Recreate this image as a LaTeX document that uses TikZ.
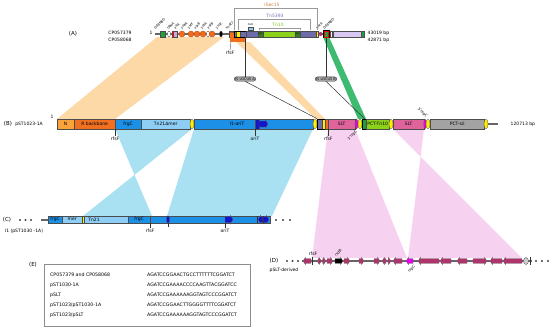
\documentclass[tikz,border=0pt]{standalone}
\usepackage{fontspec}
\setmainfont{DejaVu Sans}
\usetikzlibrary{shapes.geometric}
\definecolor{peach}{HTML}{FDD9A8}
\definecolor{skyw}{HTML}{A9E1F2}
\definecolor{pinkw}{HTML}{F7D2F0}
\definecolor{greenw}{HTML}{3DBB70}
\definecolor{cN}{HTML}{F9A33A}
\definecolor{cR}{HTML}{F07020}
\definecolor{cBlue}{HTML}{1C8FE6}
\definecolor{cLBlue}{HTML}{8ECDF4}
\definecolor{cDBlue}{HTML}{1414C8}
\definecolor{cSLT}{HTML}{E0649C}
\definecolor{cLime}{HTML}{8CD21A}
\definecolor{cGray}{HTML}{A3A3A3}
\definecolor{cYel}{HTML}{FFEE00}
\definecolor{cMag}{HTML}{E800E8}
\definecolor{cPur}{HTML}{6C6CA8}
\definecolor{cLilac}{HTML}{D9C9F2}
\definecolor{cGreen}{HTML}{1E9E3C}
\definecolor{cDGreen}{HTML}{3A7A20}
\definecolor{cOr}{HTML}{F26A1B}
\definecolor{cMaroon}{HTML}{B0346C}
\definecolor{cISec}{HTML}{C8843C}
\definecolor{cTnf}{HTML}{7070B0}
\definecolor{cTnt}{HTML}{80C020}
\newcommand{\gR}[5]{\filldraw[fill=#4,draw=black!60,line width=0.3pt] (#1,#3-#5)--(#2-2.5,#3-#5)--(#2-2.5,#3-#5-1.3)--(#2,#3)--(#2-2.5,#3+#5+1.3)--(#2-2.5,#3+#5)--(#1,#3+#5)--cycle;}
\newcommand{\gL}[5]{\filldraw[fill=#4,draw=black!60,line width=0.3pt] (#2,#3-#5)--(#1+2.5,#3-#5)--(#1+2.5,#3-#5-1.3)--(#1,#3)--(#1+2.5,#3+#5+1.3)--(#1+2.5,#3+#5)--(#2,#3+#5)--cycle;}
\tikzset{
 lab/.style={font=\fontsize{4.5}{5}\selectfont, inner sep=0.5pt},
 big/.style={font=\fontsize{5.5}{6}\selectfont, inner sep=0.5pt},
 seg/.style={draw=black!70, line width=0.35pt, inner sep=0, minimum height=10pt, anchor=west, font=\fontsize{4.5}{5}\selectfont},
 segc/.style={seg, minimum height=7.5pt},
 sega/.style={seg, minimum height=6pt},
 oval/.style={ellipse, draw=black!70, line width=0.3pt, inner sep=0, minimum width=4pt, minimum height=10pt},
 bb/.style={draw=black!60, line width=1.3pt},
 tick/.style={draw=black!80, line width=0.35pt},
 brk/.style={draw=black!40, line width=0.5pt},
 locus/.style={draw=black!80, fill=black!30, rounded corners=2pt, line width=0.4pt, inner sep=0.8pt, font=\fontsize{3.5}{4}\selectfont},
 conn/.style={draw=black!80, line width=0.5pt},
 rot/.style={font=\fontsize{3.3}{3.5}\selectfont, inner sep=0.2pt, rotate=45, anchor=west},
 rotm/.style={font=\fontsize{3.6}{4}\selectfont, inner sep=0.2pt, rotate=-45, anchor=east},
 dotn/.style={circle, fill=black!75, inner sep=0, minimum size=2.3pt},
 orn/.style={circle, fill=cOr, draw=cOr!70!black, line width=0.3pt, inner sep=0, minimum size=6pt},
}
\begin{document}
\begin{tikzpicture}[x=1pt,y=-1pt]
\useasboundingbox (0,0) rectangle (550,330);
% ---------- wedges ----------
\fill[peach] (157,37) -- (224,37) -- (115,119) -- (57,119) -- cycle;
\fill[peach] (236,42) -- (250,42) -- (325,119) -- (316,119) -- cycle;
\fill[greenw] (323,37) -- (329,37) -- (366,119) -- (358,119) -- cycle;
\fill[skyw] (115,129) -- (192,129) -- (83,216) -- (152,216) -- cycle;
\fill[skyw] (194,129) -- (313,129) -- (272,216) -- (167,216) -- cycle;
\fill[pinkw] (328,129) -- (355,129) -- (407,258) -- (312,258) -- cycle;
\fill[pinkw] (393,129) -- (424,129) -- (408,258) -- (522,258) -- cycle;

% ---------- row A ----------
\node[big] (labA) at (73,34) {(A)};
\node[lab] (acc1) at (120,33) {CP057379};
\node[lab] (acc2) at (120,40) {CP058068};
\node[lab] (a1) at (151,33) {1};
\draw[bb] (155,34) -- (364,34);
\node[sega, fill=cGreen, minimum width=5pt] (ag1) at (160,34) {};
\node[oval, fill=white, minimum width=3pt, minimum height=6pt] (aw1) at (169,34) {};
\node[sega, fill=violet!35, minimum width=5pt] (av) at (172,34) {};
\draw[red, line width=0.5pt] (173.3,31) -- (173.3,37);
\node[orn] (ao1) at (182,34) {};
\node[orn] (ao2) at (191,34) {};
\node[orn] (ao3) at (197,34) {};
\node[orn] (ao4) at (203,34) {};
\node[oval, fill=white, minimum width=3pt, minimum height=6pt] (aw2) at (208,34) {};
\node[orn] (ao5) at (212,34) {};
\node[oval, fill=black, minimum width=3pt, minimum height=6pt] (ak) at (221,34) {};
\node[sega, fill=cR!80!black, minimum width=4pt] (abr) at (229,34) {};
\fill[cR] (230,33) rectangle (246,42);
\node[sega, fill=cPur, minimum width=12pt] (aISin) at (234,34) {};
\node[sega, fill=cYel, minimum width=4pt] (ay) at (235.5,34) {};
\node[sega, draw=black, line width=0.8pt, minimum width=12pt] (aIS) at (234,34) {};
\node[sega, fill=cPur, minimum width=12pt] (ap1) at (246,34) {};
\node[sega, fill=cLBlue, minimum width=5pt, minimum height=3.5pt] (ahb) at (248,28.5) {};
\node[font=\fontsize{2.5}{3}\selectfont, inner sep=0] (ahbl) at (250.5,25) {hisR};
\node[sega, fill=cLime, minimum width=42pt] (atn) at (258,34) {};
\node[sega, fill=cDGreen, minimum width=5pt, font=\fontsize{2}{2}\selectfont] (ae1) at (258,34) {IS10};
\node[sega, fill=cDGreen, minimum width=5pt, font=\fontsize{2}{2}\selectfont] (ae2) at (295,34) {IS10};
\node[sega, fill=cPur, minimum width=16pt] (ap2) at (300,34) {};
\node[sega, fill=cYel, minimum width=2pt] (ay2) at (316,34) {};
\node[circle, fill=cMaroon, inner sep=0, minimum size=4pt] (am) at (320.5,34) {};
\node[sega, fill=cGreen, draw=black, line width=0.8pt, minimum width=6pt, minimum height=7pt] (aG) at (323,34) {};
\draw[red, line width=0.4pt] (323.8,31.3) rectangle (328.2,36.7);
\node[sega, fill=white, minimum width=2pt] (aw3) at (330,34) {};
\node[sega, fill=cLilac, minimum width=28pt] (al) at (333,34) {};
\node[sega, fill=cGreen, minimum width=3pt] (ag2) at (361,34) {};
\node[lab, anchor=west] (abp1) at (367,33) {43019 bp};
\node[lab, anchor=west] (abp2) at (367,40) {42871 bp};
% rotated gene labels
\node[rot] (r1) at (154.5,29) {DS9NBD};
\node[rot] (r2) at (167.5,29) {tRNA};
\node[rot] (r3) at (174.5,29) {yfiA};
\node[rot] (r4) at (181,29) {ydeA};
\node[rot] (r5) at (188,29) {ykfF};
\node[rot] (r6) at (194.5,29) {yjaB};
\node[rot] (r7) at (201,29) {ydfA};
\node[rot] (r8) at (207.5,29) {yafB};
\node[rot] (r9) at (216,29) {ysdC};
\node[rot] (r10) at (226,29) {hsdCI};
\node[rot] (r11) at (316.5,29) {parA};
\node[rot] (r12) at (323.5,29) {DS9NBD};
% brackets
\draw[brk] (234,30) -- (234,8.5) -- (317,8.5) -- (317,30);
\node[lab, text=cISec] (tISec) at (272,4.5) {ISec15};
\draw[brk] (238,30) -- (238,19) -- (310,19) -- (310,30);
\node[lab, text=cTnf] (tTnf) at (275,15.5) {Tn5393};
\draw[brk] (259,30) -- (259,28) -- (300,28) -- (300,30);
\node[lab, text=cTnt] (tTnt) at (278,24.5) {Tn10};
% rfsF A
\node[lab] (arf) at (230,52.5) {rfsF};
\draw[tick] (231,42) -- (arf.north);
% IS loci
\node[locus] (locA) at (245,79) {IS LOCUS A};
\node[locus] (locB) at (326,79) {IS LOCUS B};
\draw[conn] (locA.north) -- (locA.north |- aIS.south);
\draw[conn] (locB.north) -- (locB.north |- aG.south);

% ---------- row B ----------
\node[big] (labB) at (8,124) {(B)};
\node[lab] (nB) at (29,124) {pST1023-1A};
\node[lab] (b1) at (52,117) {1};
\node[seg, fill=cN, minimum width=17pt] (bN) at (57,124) {N};
\node[seg, fill=cR, minimum width=41pt] (bR) at (74,124) {R backbone};
\node[seg, fill=cBlue, minimum width=26pt] (bF) at (115,124) {frgC};
\node[seg, fill=cLBlue, minimum width=49pt] (bT) at (141,124) {Tn21Δmer};
\node[seg, fill=cBlue, minimum width=119pt] (bI) at (194,124) {};
\node[lab] (bIl) at (237,124) {I1-oriT};
\node[oval, fill=cYel] (by1) at (192,124) {};
\node[seg, fill=cDBlue, minimum width=4pt] (bd1) at (255,124) {};
\gR{259}{268}{124}{cDBlue}{3}
\node[oval, fill=cYel] (by2) at (315,124) {};
\node[seg, fill=cPur, minimum width=5pt] (bp) at (317,124) {};
\node[seg, fill=cYel, minimum width=3pt] (byy) at (322,124) {};
\node[seg, draw=black, line width=0.8pt, minimum width=8pt] (bIS) at (317,124) {};
\node[seg, fill=cR, minimum width=3pt] (bo) at (325,124) {};
\node[seg, fill=cSLT, minimum width=27pt] (bS1) at (328,124) {SLT};
\node[oval, fill=cMag, minimum width=3pt] (bm1) at (356.5,124) {};
\node[oval, fill=cYel] (by3) at (360,124) {};
\node[seg, fill=cGreen, draw=black, line width=0.8pt, minimum width=4pt] (bG) at (362,124) {};
\node[seg, fill=cLime, minimum width=23pt] (bTn) at (366,124) {PCT-Tn10};
\node[oval, fill=cYel] (by4) at (391,124) {};
\node[seg, fill=cSLT, minimum width=31pt] (bS2) at (393,124) {SLT};
\node[oval, fill=cMag, minimum width=2.5pt] (bm2) at (425,124) {};
\node[oval, fill=cYel] (by5) at (428,124) {};
\node[seg, fill=cGray, minimum width=54pt] (bSil) at (430,124) {PCT-sil};
\node[oval, fill=cYel] (by6) at (486,124) {};
\coordinate (bEnd) at (498,124);
\draw[draw=black!60, line width=2pt] (by6.east) -- (bEnd);
\node[lab, anchor=west] (bbp) at (510,124) {120713 bp};
\draw[tick] (bF.south west) -- ++(0,7) node[lab, below] (bl1) {rfsF};
\draw[tick] (bd1.south west) -- ++(0,7) node[lab, below] (bl2) {oriT};
\draw[tick] (bo.south east) -- ++(0,7) node[lab, below] (bl3) {rfsF};
\node[rot, anchor=east, font=\fontsize{3.6}{4}\selectfont] (bl4) at (357,131) {3'repC};
\node[rotm] (bl5) at (427,117) {5'repC};
\draw[conn] (locA.south) -- (bIS.north west);
\draw[conn] (locB.south) -- (bG.north);

% ---------- row C ----------
\node[big] (labC) at (7,219.5) {(C)};
\node[dotn] (cd1) at (20,220) {};
\node[dotn] (cd2) at (25.5,220) {};
\node[dotn] (cd3) at (31,220) {};
\coordinate (cStart) at (41,219.5);
\node[segc, fill=cBlue, minimum width=14pt] (cF1) at (48,219.5) {frgC};
\draw[draw=black!60, line width=2pt] (cStart) -- (cF1.west);
\node[segc, fill=cLBlue, minimum width=20pt] (cM) at (62,219.5) {mer};
\node[segc, fill=cYel, minimum width=2pt] (cY) at (82,219.5) {};
\node[segc, fill=cLBlue, minimum width=44pt] (cT) at (84,219.5) {};
\node[lab] (cTl) at (94,219.5) {Tn21};
\node[segc, fill=cBlue, minimum width=22pt] (cF2) at (128,219.5) {frgC};
\node[segc, fill=cBlue, minimum width=120pt] (cI) at (150,219.5) {};
\node[oval, fill=cDBlue, minimum width=3pt, minimum height=7.5pt] (cdb) at (168,219.5) {};
\gR{225}{233}{219.5}{cDBlue}{3}
\gL{258}{263}{219.5}{cDBlue}{3}
\gR{263}{269}{219.5}{cDBlue}{3}
\coordinate (cOri) at (225,223.25);
\draw[tick] (257,216) -- (257,223);
\draw[tick] (263,216) -- (263,223);
\draw[tick] (cI.south west) -- ++(0,5) node[lab, below] (cl1) {rfsF};
\draw[tick] (cdb.south) -- ++(0,4);
\draw[tick] (cOri) -- ++(0,5) node[lab, below] (cl2) {oriT};
\node[dotn] (cd4) at (276,220) {};
\node[dotn] (cd5) at (283,220) {};
\node[dotn] (cd6) at (290,220) {};
\node[lab] (nC) at (24,231) {I1 (pST1030 -1A)};

% ---------- row D ----------
\node[big] (labD) at (274,261) {(D)};
\node[lab] (nD) at (284,270.5) {pSLT-derived};
\node[dotn] (dd1) at (287,261) {};
\node[dotn] (dd2) at (292.5,261) {};
\node[dotn] (dd3) at (298,261) {};
\draw[bb] (302,261) -- (532,261);
\gL{303}{311}{261}{cMaroon}{2.3}
\draw[tick] (312,257) -- (312,265);
\node[lab] (dl1) at (313,254) {rfsF};
\gR{318}{321.5}{261}{cMaroon}{2.3}
\gR{322.5}{326}{261}{cMaroon}{2.3}
\gR{327}{333}{261}{cMaroon}{2.3}
\gR{335}{343}{261}{black}{2.3}
\node[rot, font=\fontsize{3.6}{4}\selectfont] (dl2) at (335,256) {rsdB};
\gR{344}{350}{261}{cMaroon}{2.3}
\gR{359}{364}{261}{cMaroon}{2.3}
\gR{374}{380}{261}{cMaroon}{2.3}
\gL{382}{386}{261}{cMaroon}{2.3}
\gR{388}{391}{261}{cMaroon}{2.3}
\gL{393}{402}{261}{cMaroon}{2.3}
\gL{406}{413}{261}{cMag}{2.3}
\node[rot, anchor=east, font=\fontsize{3.6}{4}\selectfont] (dl3) at (415,266) {repC};
\gL{418}{439}{261}{cMaroon}{2.3}
\gL{440}{451}{261}{cMaroon}{2.3}
\gL{457}{467}{261}{cMaroon}{2.3}
\gR{473}{487}{261}{cMaroon}{2.3}
\gL{490}{502}{261}{cMaroon}{2.3}
\gL{503}{522}{261}{cMaroon}{2.3}
\node[oval, fill=black!20, minimum width=5pt, minimum height=7pt] (dg) at (526,261) {};
\draw[tick] (530.5,257) -- (530.5,265);
\node[dotn] (dd4) at (536,261) {};
\node[dotn] (dd5) at (542,261) {};
\node[dotn] (dd6) at (548,261) {};

% ---------- box E ----------
\node[big] (labE) at (33,265) {(E)};
\node[draw=black!45, line width=0.5pt, minimum width=206pt, minimum height=62pt, anchor=north west, inner sep=0] (boxE) at (44,264) {};
\begin{scope}[every node/.style={font=\fontsize{4.7}{5}\selectfont, anchor=west, inner sep=0}]
\node (e1) at (50,275) {CP057379 and CP058068};
\node (s1) at (147,275) {AGATCCGGAACTGCCTTTTTTCGGATCT};
\node (e2) at (50,285) {pST1030-1A};
\node (s2) at (147,285) {AGATCCGAAAACCCCAAGTTACGGATCC};
\node (e3) at (50,295) {pSLT};
\node (s3) at (147,295) {AGATCCGAAAAAAGGTAGTCCCGGATCT};
\node (e4) at (50,305) {pST1023/pST1030-1A};
\node (s4) at (147,305) {AGATCCGGAACTTGGGGTTTTCGGATCT};
\node (e5) at (50,315) {pST1023/pSLT};
\node (s5) at (147,315) {AGATCCGAAAAAAGGTAGTCCCGGATCT};
\end{scope}
\end{tikzpicture}
\end{document}
